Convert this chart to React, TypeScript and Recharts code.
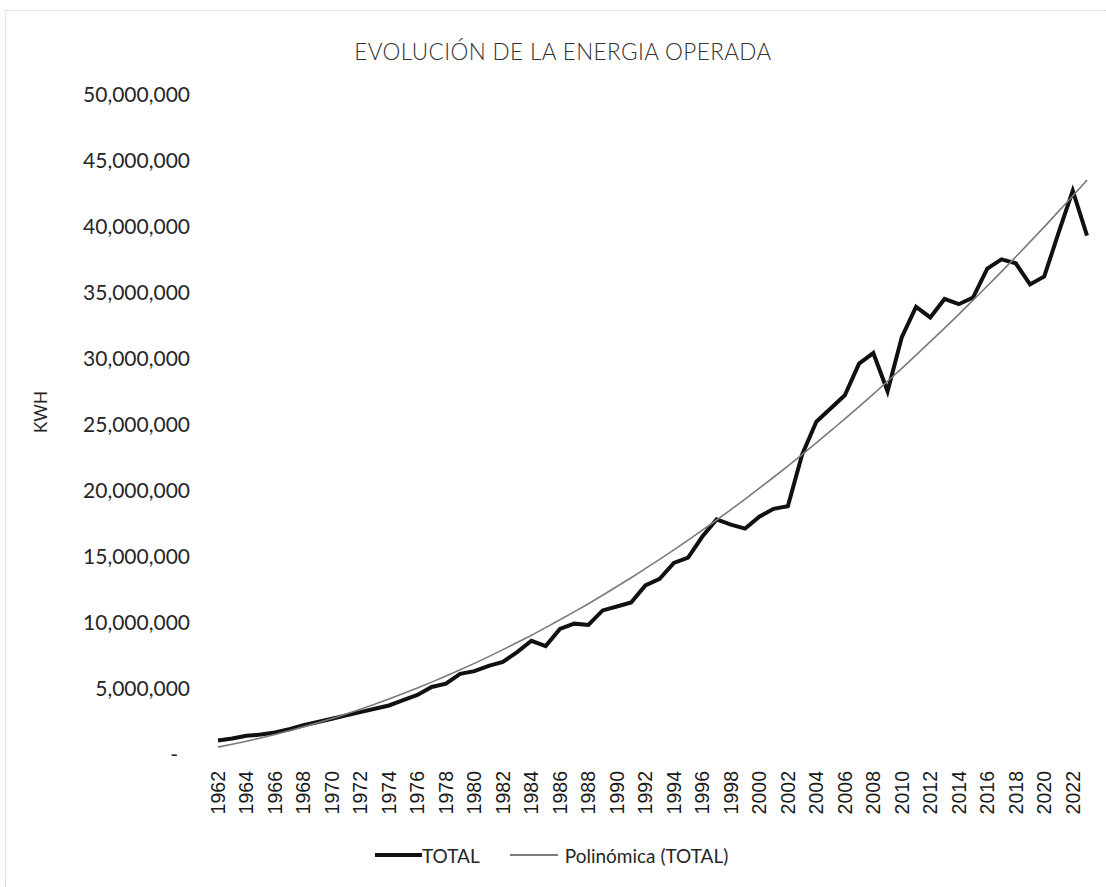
import React from 'react';
import { LineChart, Line, XAxis, YAxis } from 'recharts';

const YEARS = [
  '1962', '1963', '1964', '1965', '1966', '1967', '1968', '1969', '1970', '1971',
  '1972', '1973', '1974', '1975', '1976', '1977', '1978', '1979', '1980', '1981',
  '1982', '1983', '1984', '1985', '1986', '1987', '1988', '1989', '1990', '1991',
  '1992', '1993', '1994', '1995', '1996', '1997', '1998', '1999', '2000', '2001',
  '2002', '2003', '2004', '2005', '2006', '2007', '2008', '2009', '2010', '2011',
  '2012', '2013', '2014', '2015', '2016', '2017', '2018', '2019', '2020', '2021',
  '2022', '2023',
];

// TOTAL energy operated (kWh)
const TOTAL = [
  950000, 1100000, 1300000, 1400000, 1550000, 1800000, 2100000, 2350000, 2600000, 2850000,
  3100000, 3350000, 3600000, 4000000, 4400000, 5000000, 5250000, 6000000, 6200000, 6600000,
  6900000, 7650000, 8500000, 8100000, 9400000, 9800000, 9700000, 10800000, 11100000, 11400000,
  12700000, 13200000, 14400000, 14800000, 16400000, 17700000, 17300000, 17000000, 17900000, 18500000,
  18700000, 22600000, 25100000, 26100000, 27100000, 29500000, 30300000, 27400000, 31500000, 33800000,
  33000000, 34400000, 34000000, 34500000, 36700000, 37400000, 37100000, 35500000, 36100000, 39400000,
  42600000, 39200000,
];

// Polinómica (TOTAL) trend line values (kWh)
const TREND = [
  450000, 660000, 890000, 1140000, 1400000, 1680000, 1980000, 2290000, 2610000, 2960000,
  3320000, 3700000, 4090000, 4500000, 4930000, 5370000, 5830000, 6300000, 6790000, 7300000,
  7830000, 8370000, 8920000, 9500000, 10090000, 10690000, 11310000, 11950000, 12610000, 13280000,
  13970000, 14670000, 15390000, 16130000, 16880000, 17650000, 18440000, 19240000, 20060000, 20890000,
  21740000, 22610000, 23490000, 24400000, 25310000, 26240000, 27190000, 28160000, 29140000, 30140000,
  31160000, 32190000, 33230000, 34300000, 35380000, 36470000, 37590000, 38720000, 39860000, 41030000,
  42200000, 43400000,
];

const Y_TICKS = [0, 5000000, 10000000, 15000000, 20000000, 25000000, 30000000, 35000000, 40000000, 45000000, 50000000];

const TITLE = 'EVOLUCIÓN DE LA ENERGIA OPERADA';
const Y_LABEL = 'KWH';
const SERIES_NAME = 'TOTAL';
const TREND_NAME = 'Polinómica (TOTAL)';

const data = YEARS.map((year, i) => ({ year, total: TOTAL[i], trend: TREND[i] }));

const FONT = 'Lato, "Open Sans", sans-serif';

const YTick = (props: any) => {
  const { x, y, payload } = props;
  const v = payload.value as number;
  const label = v === 0 ? '-' : v.toLocaleString('en-US');
  return (
    <text
      x={v === 0 ? x - 12 : x}
      y={y}
      textAnchor="end"
      dominantBaseline="central"
      fontFamily={FONT}
      fontSize={21}
      fill="#262626"
    >
      {label}
    </text>
  );
};

const XTick = (props: any) => {
  const { x, y, payload } = props;
  return (
    <text
      x={x}
      y={y}
      transform={`rotate(-90, ${x}, ${y})`}
      textAnchor="end"
      dominantBaseline="central"
      fontFamily='"Liberation Sans", Arial, sans-serif'
      fontSize={19.5}
      fill="#1a1a1a"
    >
      {payload.value}
    </text>
  );
};

export default function App() {
  return (
    <div
      style={{
        position: 'absolute',
        left: 0,
        top: 0,
        width: 1106,
        height: 887,
        background: '#ffffff',
        overflow: 'hidden',
      }}
    >
      <div
        style={{
          position: 'absolute',
          left: 5,
          top: 10,
          width: 1120,
          height: 900,
          borderTop: '1px dotted #c8c8c8',
          borderLeft: '1px dotted #c8c8c8',
        }}
      />
      <div
        style={{
          position: 'absolute',
          left: 0,
          top: 38,
          width: 1126,
          textAlign: 'center',
          fontFamily: FONT,
          fontSize: 22.5,
          fontWeight: 300,
          color: '#333333',
          letterSpacing: 0.4,
        }}
      >
        {TITLE}
      </div>
      <div
        style={{
          position: 'absolute',
          left: 40,
          top: 412,
          transform: 'translate(-50%, -50%) rotate(-90deg)',
          fontFamily: FONT,
          fontSize: 17,
          color: '#262626',
          whiteSpace: 'nowrap',
        }}
      >
        {Y_LABEL}
      </div>
      <div style={{ position: 'absolute', left: 0, top: 0 }}>
        <LineChart
          width={1106}
          height={887}
          data={data}
          margin={{ top: 93, right: 19, left: 0, bottom: 74 }}
        >
          <XAxis
            dataKey="year"
            interval={1}
            axisLine={false}
            tickLine={false}
            tickMargin={12}
            height={60}
            tick={<XTick />}
          />
          <YAxis
            type="number"
            domain={[0, 50000000]}
            ticks={Y_TICKS}
            width={218}
            axisLine={false}
            tickLine={false}
            tickMargin={22}
            tick={<YTick />}
            allowDataOverflow
          />
          <Line
            type="linear"
            dataKey="total"
            name={SERIES_NAME}
            stroke="#111111"
            strokeWidth={4}
            dot={false}
            activeDot={false}
            isAnimationActive={false}
          />
          <Line
            type="monotone"
            dataKey="trend"
            name={TREND_NAME}
            stroke="#7a7a7a"
            strokeWidth={1.6}
            dot={false}
            activeDot={false}
            isAnimationActive={false}
          />
        </LineChart>
      </div>
      <div
        style={{
          position: 'absolute',
          left: 375,
          top: 843,
          display: 'flex',
          alignItems: 'center',
          fontFamily: FONT,
          fontSize: 19,
          color: '#262626',
          whiteSpace: 'nowrap',
          height: 24,
        }}
      >
        <span style={{ display: 'inline-block', width: 47, height: 4, background: '#111111' }} />
        <span style={{ marginLeft: 0 }}>{SERIES_NAME}</span>
        <span
          style={{ display: 'inline-block', width: 48, height: 2, background: '#7a7a7a', marginLeft: 30 }}
        />
        <span style={{ marginLeft: 7 }}>{TREND_NAME}</span>
      </div>
    </div>
  );
}
